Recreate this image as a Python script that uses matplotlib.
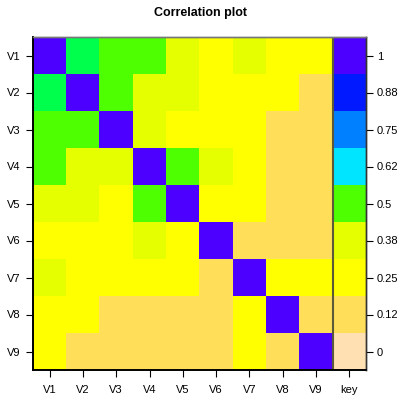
import numpy as np
import matplotlib
matplotlib.use("Agg")
import matplotlib.pyplot as plt
from matplotlib.colors import ListedColormap

# topo-style palette, index 0 = strongest correlation
palette = ["#4C00FF", "#0019FF", "#0080FF", "#00E5FF", "#00FF4D",
           "#4DFF00", "#E6FF00", "#FFFF00", "#FFDE59", "#FFE0B3"]

labels = ["V1", "V2", "V3", "V4", "V5", "V6", "V7", "V8", "V9"]

# colour index of each cell, rows V1..V9 top to bottom
cells = [
    [0, 4, 5, 5, 6, 7, 6, 7, 7],
    [4, 0, 5, 6, 6, 7, 7, 7, 8],
    [5, 5, 0, 6, 7, 7, 7, 8, 8],
    [5, 6, 6, 0, 5, 6, 7, 8, 8],
    [6, 6, 7, 5, 0, 7, 7, 8, 8],
    [7, 7, 7, 6, 7, 0, 8, 8, 8],
    [6, 7, 7, 7, 7, 8, 0, 7, 7],
    [7, 7, 8, 8, 8, 8, 7, 0, 8],
    [7, 8, 8, 8, 8, 8, 7, 8, 0],
]

key_idx = [0, 1, 2, 3, 5, 6, 7, 8, 9]
key_labels = ["1", "0.88", "0.75", "0.62", "0.5", "0.38", "0.25", "0.12", "0"]

plt.rcParams['font.family'] = ['Liberation Sans', 'DejaVu Sans']

mat = np.column_stack([np.array(cells), np.array(key_idx)])
cmap = ListedColormap(palette)

fig = plt.figure(figsize=(4.02, 3.96), dpi=100)
ax = fig.add_axes([33 / 402, 26 / 396, 333 / 402, 333 / 396])
ax.imshow(mat, cmap=cmap, vmin=-0.5, vmax=9.5, aspect='auto',
          interpolation='nearest', extent=(0.5, 10.5, 9.5, 0.5))
ax.set_xlim(0.5, 10.5)
ax.set_ylim(9.5, 0.5)

ax.axvline(9.5, color='#5a5a3a', linewidth=1.5)

ax.set_xticks(range(1, 11))
ax.set_xticklabels(labels + ["key"], fontsize=8)
ax.set_yticks(range(1, 10))
ax.set_yticklabels(labels, fontsize=8)
ax.tick_params(axis='x', direction='out', length=5, width=0.8, pad=6)
ax.tick_params(axis='y', direction='out', length=5, width=0.8, pad=4)

ax2 = ax.twinx()
ax2.set_ylim(9.5, 0.5)
ax2.set_yticks(range(1, 10))
ax2.set_yticklabels(key_labels, fontsize=8)
ax2.tick_params(axis='y', direction='out', length=5, width=0.8, pad=3)

for a in (ax, ax2):
    a.spines['left'].set_color('black')
    a.spines['bottom'].set_color('black')
    a.spines['top'].set_color('#777777')
    a.spines['right'].set_color('#333333')
    a.spines['left'].set_linewidth(1.2)
    a.spines['bottom'].set_linewidth(1.2)
    a.spines['top'].set_linewidth(1.0)
    a.spines['right'].set_linewidth(1.0)

fig.text(0.5, 1 - 13 / 396, "Correlation plot", ha='center', va='center',
         fontsize=9, fontweight='bold')

fig.savefig("out.png", dpi=100)
